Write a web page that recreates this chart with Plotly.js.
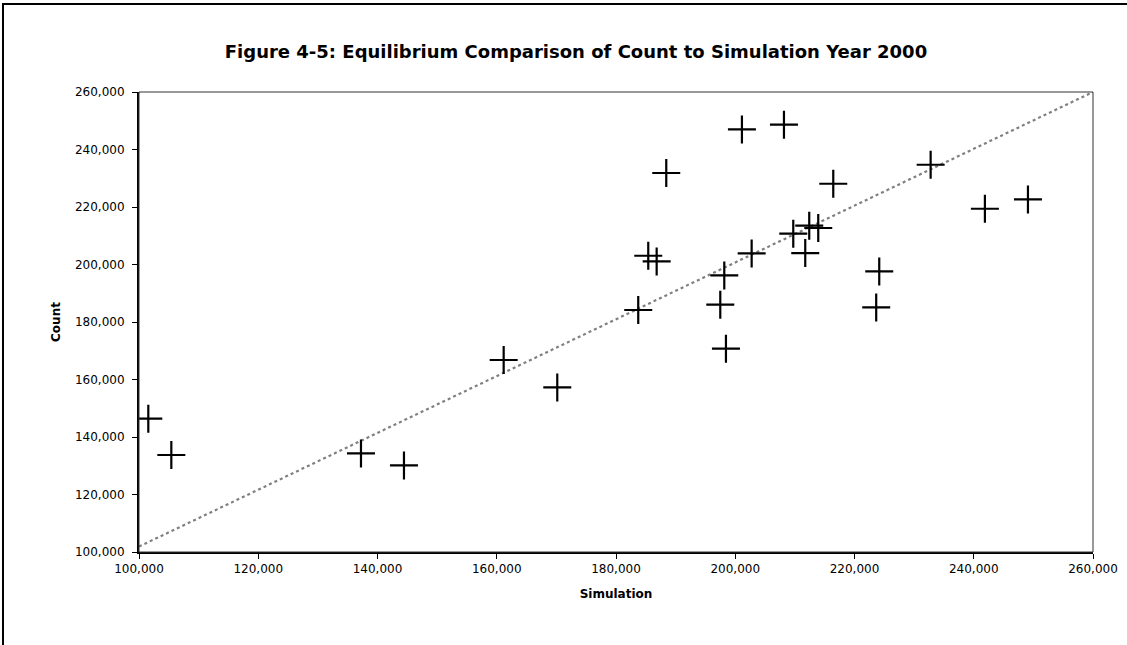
<!DOCTYPE html>
<html>
<head>
<meta charset="utf-8">
<script src="https://cdn.plot.ly/plotly-3.0.1.min.js"></script>
<style>
  html, body { margin: 0; padding: 0; background: #fff; }
  #wrap { position: relative; width: 1127px; height: 645px; overflow: hidden; }
  #chart { position: absolute; left: 0; top: 0; width: 1127px; height: 645px; }
  #frame { position: absolute; left: 2px; top: 3px; width: 1200px; height: 700px;
           border-top: 2px solid #000; border-left: 2px solid #000; pointer-events: none; }
</style>
</head>
<body>
<div id="wrap">
  <div id="chart"></div>
  <div id="frame"></div>
</div>
<script>
// Simulation (x) vs Count (y)
const simulation = [101560, 105420, 137230, 144440, 161160, 170150, 183730, 197490, 198440,
                    201120, 208170, 188430, 185410, 186820, 198160, 202750, 216440, 232770,
                    241870, 249090, 209730, 212410, 213920, 211740, 224150, 223640];
const count      = [146360, 133740, 134290, 130120, 166780, 157250, 184170, 186010, 170710,
                    246980, 248620, 231820, 203050, 201070, 196200, 203850, 228090, 234700,
                    219400, 222640, 210710, 213490, 212690, 203990, 197590, 185070];
// Trend line end points
const trendX = [100000, 260000];
const trendY = [101900, 260000];

const titleText = "Figure 4-5: Equilibrium Comparison of Count to Simulation Year 2000";
const xTitle = "Simulation";
const yTitle = "Count";
const tickVals = [100000, 120000, 140000, 160000, 180000, 200000, 220000, 240000, 260000];
const tickText = ["100,000", "120,000", "140,000", "160,000", "180,000", "200,000", "220,000", "240,000", "260,000"];

const font = "DejaVu Sans, Liberation Sans, Arial, sans-serif";

const traces = [
  {
    x: trendX, y: trendY, type: "scatter", mode: "lines",
    line: { color: "#808080", width: 2.2, dash: "dot" },
    hoverinfo: "skip", showlegend: false
  },
  {
    x: simulation, y: count, type: "scatter", mode: "markers",
    marker: { symbol: "cross-thin-open", size: 20, color: "#000", line: { color: "#000", width: 2.2 } },
    showlegend: false
  }
];

const axisCommon = {
  tickfont: { family: font, size: 12, color: "#000" },
  showgrid: false, zeroline: false,
  showline: true, linecolor: "#000", linewidth: 2,
  ticks: "outside", ticklen: 5, tickwidth: 1, tickcolor: "#000",
  tickmode: "array", tickvals: tickVals, ticktext: tickText
};

const layout = {
  width: 1127, height: 645,
  margin: { l: 139, r: 34, t: 92, b: 93 },
  paper_bgcolor: "#fff", plot_bgcolor: "#fff",
  font: { family: font, color: "#000" },
  title: {
    text: "<b>" + titleText + "</b>",
    font: { family: font, size: 18, color: "#000" },
    xref: "container", x: 576 / 1127, xanchor: "center",
    yref: "container", y: 1 - 52 / 645, yanchor: "middle"
  },
  xaxis: Object.assign({}, axisCommon, {
    range: [100000, 260000],
    ticklabelstandoff: 0,
    title: { text: "<b>" + xTitle + "</b>", font: { family: font, size: 12, color: "#000" }, standoff: 14 }
  }),
  yaxis: Object.assign({}, axisCommon, {
    range: [100000, 260000],
    ticklabelstandoff: 5,
    title: { text: "<b>" + yTitle + "</b>", font: { family: font, size: 12, color: "#000" }, standoff: 12 }
  }),
  shapes: [
    { type: "rect", xref: "paper", yref: "paper", x0: 0, y0: 0, x1: 1, y1: 1,
      line: { color: "#333", width: 1 }, fillcolor: "rgba(0,0,0,0)", layer: "above" }
  ]
};

Plotly.newPlot("chart", traces, layout, { displayModeBar: false, staticPlot: true });
</script>
</body>
</html>
